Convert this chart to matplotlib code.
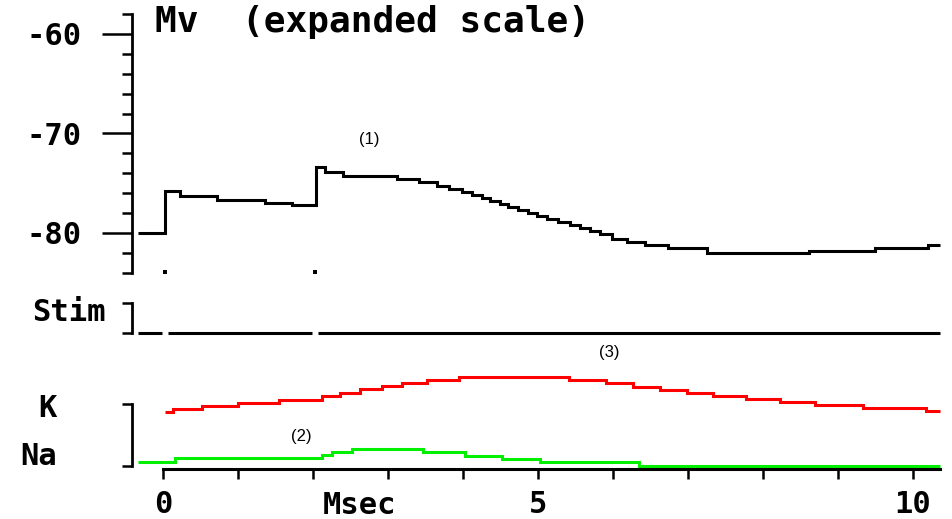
import numpy as np
import matplotlib
matplotlib.use('Agg')
import matplotlib.pyplot as plt

plt.rcParams['font.family'] = ['DejaVu Sans Mono', 'DejaVu Sans']
plt.rcParams['font.weight'] = 'bold'

# membrane potential (mV) - step breakpoints, time in msec
mv_t = [-0.33, 0.02, 0.23, 0.72, 1.36, 1.72, 2.04, 2.16, 2.40, 3.12, 3.41,
        3.65, 3.81, 3.99, 4.12, 4.25, 4.36, 4.49, 4.60, 4.73, 4.87, 4.99,
        5.12, 5.27, 5.43, 5.56, 5.69, 5.83, 5.99, 6.19, 6.43, 6.73, 7.25,
        8.61, 9.49, 10.20]
mv_v = [-80.0, -75.8, -76.3, -76.7, -77.0, -77.2, -73.4, -73.9, -74.3, -74.6, -74.9,
        -75.3, -75.6, -75.9, -76.2, -76.5, -76.8, -77.1, -77.4, -77.7, -78.0, -78.3,
        -78.6, -78.9, -79.2, -79.5, -79.8, -80.1, -80.6, -80.9, -81.2, -81.5, -82.0,
        -81.8, -81.5, -81.2]
t_end = 10.36

# stimulus times (msec)
stim_t = [0.03, 2.03]

# K conductance (arbitrary units)
k_t = [0.02, 0.13, 0.52, 1.00, 1.55, 2.12, 2.36, 2.63, 2.92, 3.19, 3.52, 3.95,
       5.41, 5.91, 6.27, 6.63, 6.99, 7.33, 7.77, 8.23, 8.69, 9.33, 10.17]
k_g = [19.0, 20.0, 21.0, 22.0, 23.0, 24.2, 25.2, 26.5, 27.5, 28.5, 29.5, 30.5,
       29.5, 28.5, 27.2, 26.2, 25.2, 24.2, 23.2, 22.2, 21.2, 20.2, 19.2]

# Na conductance (arbitrary units)
na_t = [-0.33, 0.16, 2.12, 2.25, 2.52, 3.47, 4.03, 4.52, 5.03, 6.35]
na_g = [2.2, 3.5, 4.5, 5.5, 6.5, 5.5, 4.2, 3.2, 2.2, 1.0]

fig = plt.figure(figsize=(9.52, 5.19), dpi=100)
xlim = (-163 / 75, 789 / 75)
spine_x = -0.407
fs = 22

# ---- top panel: membrane potential
ax = fig.add_axes([0, 0, 1, 1], facecolor='none')
ax.set_xlim(*xlim)
ax.set_ylim(-108.744, -56.583)
for s in ['top', 'right', 'bottom']:
    ax.spines[s].set_visible(False)
ax.spines['left'].set_position(('data', spine_x))
ax.spines['left'].set_bounds(-84, -58)
ax.spines['left'].set_linewidth(2)
ax.set_xticks([])
ax.set_yticks([-80, -70, -60])
ax.set_yticklabels(['-80', '-70', '-60'])
ax.set_yticks(np.arange(-84, -57, 2), minor=True)
ax.tick_params(axis='y', which='major', length=21.6, width=1.8, pad=15, labelsize=fs)
ax.tick_params(axis='y', which='minor', length=7.2, width=1.8)

ax.step(mv_t + [t_end], mv_v + [mv_v[-1]], where='post', color='black', lw=2.2,
        solid_joinstyle='miter', solid_capstyle='butt')
ax.scatter(stim_t, [-83.9, -83.9], marker='s', s=7, color='black', lw=0)
ax.text(-0.11, -58.8, 'Mv  (expanded scale)', fontsize=26, va='center', ha='left')
ax.text(2.75, -70.6, '(1)', fontsize=12, family='Liberation Sans', weight='normal',
        ha='center', va='center')

# ---- stimulus trace
ax2 = fig.add_axes([0, 0, 1, 1], facecolor='none')
ax2.set_xlim(*xlim)
ax2.set_ylim(-6.2, 11.1)
for s in ['top', 'right', 'bottom']:
    ax2.spines[s].set_visible(False)
ax2.spines['left'].set_position(('data', spine_x))
ax2.spines['left'].set_bounds(0, 1)
ax2.spines['left'].set_linewidth(2)
ax2.set_xticks([])
ax2.set_yticks([0, 1])
ax2.set_yticklabels(['', ''])
ax2.tick_params(axis='y', length=7.2, width=1.8)
gap = 0.04
edges = [mv_t[0]]
for st in stim_t:
    edges += [st - gap, st + gap]
edges.append(t_end)
for a, b in zip(edges[::2], edges[1::2]):
    ax2.plot([a, b], [0, 0], color='black', lw=2.2, solid_capstyle='butt')
ax2.text(-0.77, 0.67, 'Stim', fontsize=fs, ha='right', va='center')

# ---- conductances
ax3 = fig.add_axes([0, 0, 1, 1], facecolor='none')
ax3.set_xlim(*xlim)
ax3.set_ylim(-16.83, 156.17)
for s in ['top', 'right']:
    ax3.spines[s].set_visible(False)
ax3.spines['left'].set_position(('data', spine_x))
ax3.spines['left'].set_bounds(1, 21.5)
ax3.spines['left'].set_linewidth(2)
ax3.spines['bottom'].set_position(('data', 0))
ax3.spines['bottom'].set_bounds(0, t_end)
ax3.spines['bottom'].set_linewidth(2.2)
ax3.set_yticks([1, 21.5])
ax3.set_yticklabels(['', ''])
ax3.tick_params(axis='y', length=7.2, width=1.8)
ax3.set_xticks(range(11))
ax3.set_xticklabels(['0', '', '', '', '', '5', '', '', '', '', '10'])
ax3.tick_params(axis='x', length=7.2, width=1.8, pad=8.5, labelsize=fs)

ax3.step(k_t + [t_end], k_g + [k_g[-1]], where='post', color='#ff0000', lw=2.2,
         solid_joinstyle='miter', solid_capstyle='butt')
ax3.step(na_t + [t_end], na_g + [na_g[-1]], where='post', color='#00f000', lw=2.2,
         solid_joinstyle='miter', solid_capstyle='butt')
ax3.text(-1.42, 20.0, 'K', fontsize=fs, ha='right', va='center')
ax3.text(-1.42, 4.0, 'Na', fontsize=fs, ha='right', va='center')
ax3.text(2.13, -12.2, 'Msec', fontsize=fs, ha='left', va='center')
ax3.text(1.84, 10.8, '(2)', fontsize=12, family='Liberation Sans', weight='normal',
         ha='center', va='center')
ax3.text(5.95, 38.8, '(3)', fontsize=12, family='Liberation Sans', weight='normal',
         ha='center', va='center')

fig.savefig('out.png', dpi=100, facecolor='white')
